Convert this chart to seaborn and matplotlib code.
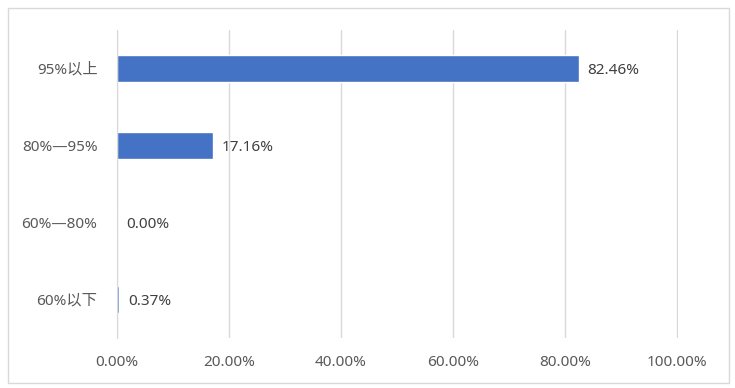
import matplotlib
matplotlib.use('Agg')
import matplotlib.pyplot as plt
import matplotlib.ticker as mticker
import pandas as pd
import seaborn as sns

categories = ['95%以上', '80%—95%', '60%—80%', '60%以下']
values = [82.46, 17.16, 0.00, 0.37]
xticks = [0, 20, 40, 60, 80, 100]

df = pd.DataFrame({'cat': categories, 'val': values})

sns.set_style('white')
plt.rcParams['font.family'] = ['Noto Sans', 'Noto Sans CJK SC', 'DejaVu Sans']

fig = plt.figure(figsize=(7.35, 3.88), dpi=100)
ax = fig.add_axes([0.159, 0.129, 0.763, 0.794])

sns.barplot(data=df, x='val', y='cat', orient='h', color='#4472C4',
            saturation=1, width=0.35, ax=ax, zorder=3)

ax.set_xlim(0, 100.15)
ax.set_xticks(xticks)
ax.xaxis.set_major_formatter(mticker.FuncFormatter(lambda v, p: f'{v:.2f}%'))
ax.grid(axis='x', color='#D9D9D9', linewidth=1, zorder=0)
ax.set_xlabel('')
ax.set_ylabel('')
for s in ['top', 'right', 'bottom']:
    ax.spines[s].set_visible(False)
ax.spines['left'].set_color('#D9D9D9')
ax.spines['left'].set_zorder(4)
ax.tick_params(axis='both', length=0, labelsize=11, labelcolor='#595959')
ax.tick_params(axis='y', pad=14)
ax.tick_params(axis='x', pad=12)

for i, v in enumerate(values):
    ax.text(v + 1.6, i + 0.03, f'{v:.2f}%', va='center', ha='left',
            fontsize=11, color='#404040')

border = plt.Rectangle((0.011, 0.013), 0.981, 0.967, transform=fig.transFigure,
                       fill=False, edgecolor='#D9D9D9', linewidth=1)
fig.add_artist(border)

fig.savefig('out.png', dpi=100)
